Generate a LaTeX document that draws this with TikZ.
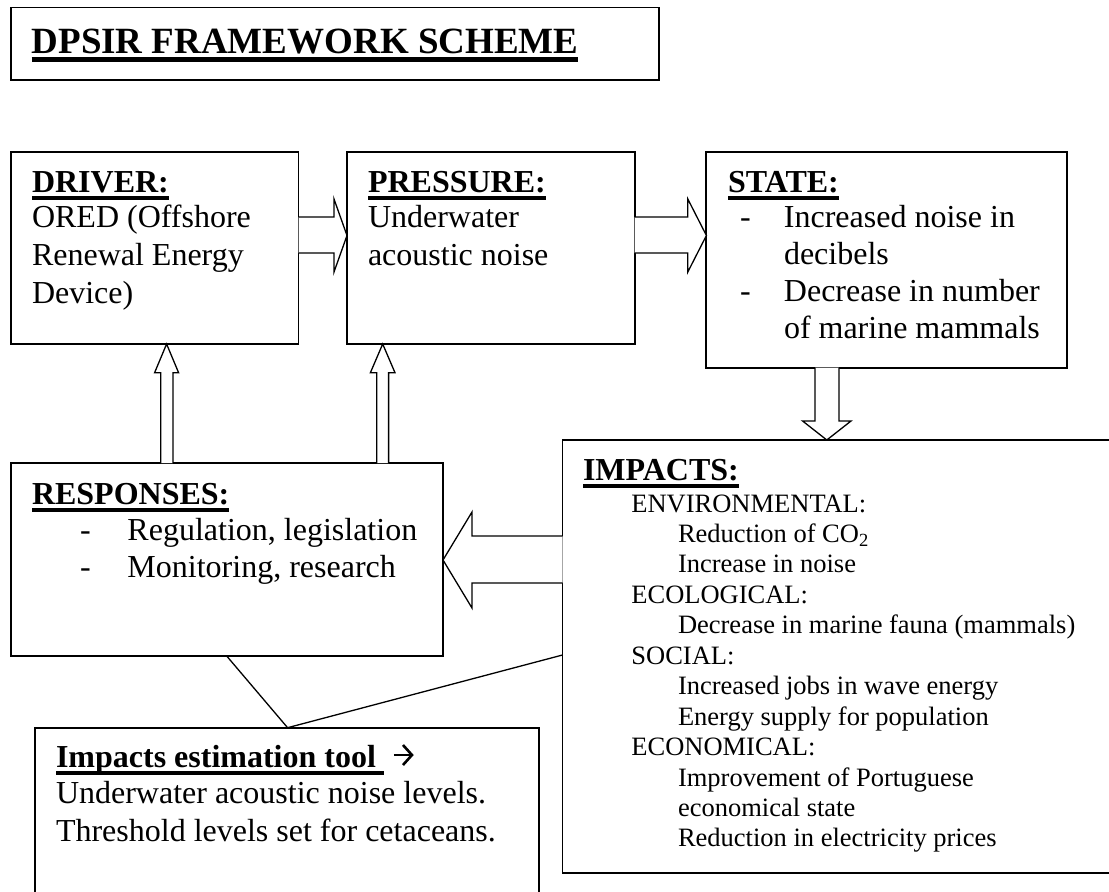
\documentclass[tikz,border=0pt]{standalone}
\usepackage{fontspec}
\setmainfont{Liberation Serif}
\usetikzlibrary{calc}
\newcommand\ulx[3]{\setbox0=\hbox{#1}\leavevmode\rlap{\rule[-#2]{\wd0}{#3}}\box0}
\newcommand\hdr[1]{\fontsize{32}{37.5}\selectfont\bfseries\ulx{#1}{7.5pt}{3.8pt}}
\newcommand\smallbody{\fontsize{26.5}{30.45}\selectfont}
\begin{document}
\begin{tikzpicture}[x=1pt,y=1pt,
  box/.style={draw, line width=1.9pt, rectangle, inner sep=0pt, outer sep=0pt, anchor=north west},
  txt/.style={anchor=base west, inner sep=0pt, outer sep=0pt},
  blk/.style={draw, line width=1.3pt, fill=white, line join=miter},
  conn/.style={draw, line width=1.3pt},
  glypharrow/.style={draw, line width=2.6pt, line join=miter}]
\useasboundingbox (0,0) rectangle (1109,-892);
\fill[white] (0,0) rectangle (1109,-892);
\clip (0,0) rectangle (1109,-892);

% boxes
\node[box, minimum width=648, minimum height=72.5] (title) at (11,-7.5) {};
\node[box, minimum width=287.8, minimum height=192] (driver) at (10.7,-152) {};
\node[box, minimum width=287.6, minimum height=192] (pressure) at (347,-152) {};
\node[box, minimum width=360.6, minimum height=215.7] (state) at (706.4,-152) {};
\node[box, minimum width=432.3, minimum height=193] (responses) at (10.7,-463) {};
\node[box, minimum width=560, minimum height=433] (impacts) at (562.5,-440) {};
\node[box, minimum width=504.4, minimum height=180] (tool) at (34.6,-727.7) {};

% texts
\node[txt] (titletxt) at (31.7,-53) {\fontsize{37}{44}\selectfont\bfseries\ulx{DPSIR FRAMEWORK SCHEME}{8.7pt}{4.8pt}};

\node[txt] (driverhdr) at (32,-192) {\hdr{DRIVER:}};
\node[txt] (drivertxt) at (32,-227) {\parbox[t]{262pt}{\fontsize{32}{38}\selectfont\raggedright ORED (Offshore\\Renewal Energy\\Device)}};

\node[txt] (pressurehdr) at (368,-192) {\hdr{PRESSURE:}};
\node[txt] (pressuretxt) at (368,-227) {\parbox[t]{262pt}{\fontsize{32}{38}\selectfont\raggedright Underwater\\acoustic noise}};

\node[txt] (statehdr) at (728,-192) {\hdr{STATE:}};
\node[txt] (statetxt) at (740,-227) {\parbox[t]{325pt}{\fontsize{32}{37.2}\selectfont\raggedright
  \makebox[44pt][l]{-}Increased noise in\\
  \hspace*{44pt}decibels\\
  \makebox[44pt][l]{-}Decrease in number\\
  \hspace*{44pt}of marine mammals}};

\node[txt] (resphdr) at (32,-504) {\hdr{RESPONSES:}};
\node[txt] (resptxt) at (80,-540) {\parbox[t]{360pt}{\fontsize{32}{37}\selectfont\raggedright
  \makebox[47.5pt][l]{-}Regulation, legislation\\
  \makebox[47.5pt][l]{-}Monitoring, research}};

\node[txt] (imphdr) at (583,-480) {\hdr{IMPACTS:}};
\node[txt] (imptxt) at (631.4,-512) {\parbox[t]{470pt}{\smallbody\raggedright
  ENVIRONMENTAL:\\
  \hspace*{46.6pt}Reduction of CO\textsubscript{2}\\
  \hspace*{46.6pt}Increase in noise\\
  ECOLOGICAL:\\
  \hspace*{46.6pt}Decrease in marine fauna (mammals)\\
  SOCIAL:\\
  \hspace*{46.6pt}Increased jobs in wave energy\\
  \hspace*{46.6pt}Energy supply for population\\
  ECONOMICAL:\\
  \hspace*{46.6pt}Improvement of Portuguese\\
  \hspace*{46.6pt}economical state\\
  \hspace*{46.6pt}Reduction in electricity prices}};

\node[txt] (toolhdr) at (56,-767) {\hdr{Impacts estimation tool\ }};
\node[txt] (tooltxt) at (56,-803) {\parbox[t]{470pt}{\fontsize{32}{38}\selectfont\raggedright
  Underwater acoustic noise levels.\\
  Threshold levels set for cetaceans.}};

% the arrow sign after the tool heading
\draw[glypharrow] ($(toolhdr.base east)+(10,12)$) -- ++(17,0);
\draw[glypharrow] ($(toolhdr.base east)+(19,22)$) -- ++(9,-10) -- ++(-9,-10);

% block arrows
\draw[blk] let \p1=(driver.east), \p2=(pressure.west) in
  (\x1,-217pt) -- (\x2-13pt,-217pt) -- (\x2-13pt,-199pt) -- (\x2,-235.5pt)
  -- (\x2-13pt,-272pt) -- (\x2-13pt,-253pt) -- (\x1,-253pt);
\draw[blk] let \p1=(pressure.east), \p2=(state.west) in
  (\x1,-217pt) -- (\x2-18.6pt,-217pt) -- (\x2-18.6pt,-199pt) -- (\x2,-235.5pt)
  -- (\x2-18.6pt,-272pt) -- (\x2-18.6pt,-253pt) -- (\x1,-253pt);
\draw[blk] let \p1=(responses.north), \p2=(driver.south) in
  (160.7pt,\y1) -- (160.7pt,\y2-28.7pt) -- (154.6pt,\y2-28.7pt) -- (166.6pt,\y2)
  -- (178.6pt,\y2-28.7pt) -- (172.9pt,\y2-28.7pt) -- (172.9pt,\y1);
\draw[blk] let \p1=(responses.north), \p2=(pressure.south) in
  (376.8pt,\y1) -- (376.8pt,\y2-28.7pt) -- (370.4pt,\y2-28.7pt) -- (382.7pt,\y2)
  -- (395pt,\y2-28.7pt) -- (388.6pt,\y2-28.7pt) -- (388.6pt,\y1);
\draw[blk] let \p1=(state.south), \p2=(impacts.north) in
  (815pt,\y1) -- (815pt,\y2+19pt) -- (802.6pt,\y2+19pt) -- (826.8pt,\y2)
  -- (851pt,\y2+19pt) -- (839pt,\y2+19pt) -- (839pt,\y1);
\draw[blk] let \p1=(impacts.west), \p2=(responses.east) in
  (\x1,-536pt) -- (\x2+29pt,-536pt) -- (\x2+29pt,-512pt) -- (\x2,-560pt)
  -- (\x2+29pt,-608pt) -- (\x2+29pt,-583pt) -- (\x1,-583pt);

% connector lines
\coordinate (apex) at ($(tool.north west)+(253,0)$);
\draw[conn] ($(responses.south west)+(216,0)$) -- (apex) -- ($(impacts.north west)+(0,-215)$);
\end{tikzpicture}
\end{document}
